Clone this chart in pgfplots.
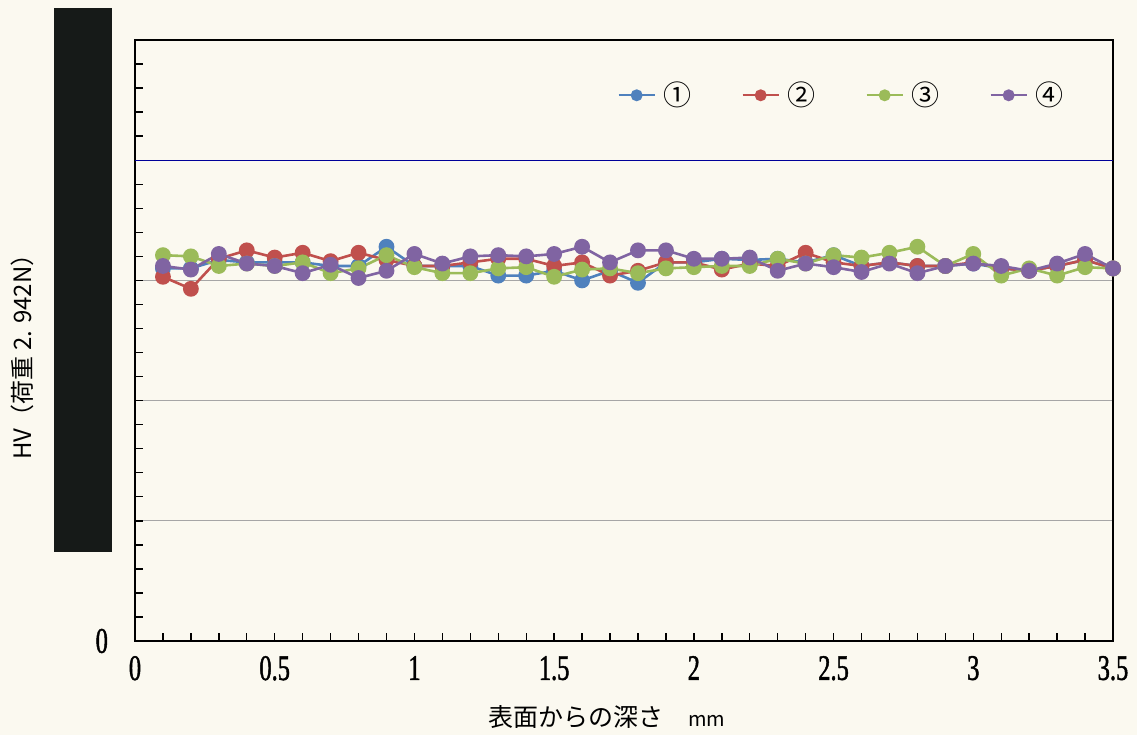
\documentclass[border=0pt]{standalone}
\usepackage{pgfplots}
\usepackage{pgfplotstable}
\pgfplotsset{compat=1.18}
\usepackage{fontspec}
\setmainfont{Liberation Serif}
\newfontfamily\tickfont[FakeStretch=0.68, FakeBold=1.2]{Liberation Serif}
\newfontfamily\cjk{Noto Sans CJK JP}
\definecolor{bgc}{RGB}{251,249,240}
\definecolor{boxc}{RGB}{22,26,24}
\definecolor{c1}{RGB}{79,129,189}
\definecolor{c2}{RGB}{192,80,77}
\definecolor{c3}{RGB}{155,187,89}
\definecolor{c4}{RGB}{128,100,162}
\pgfplotstableread{
x    b    r    g    p
0.1  310  303  321  312
0.2  310  293  320  309
0.3  317  318  312  322
0.4  315  325  314  314
0.5  315  319  312  312
0.6  315  323  315  306
0.7  312  316  306  313
0.8  312  323  310  302
0.9  328  317  321  308
1.0  312  312  311  322
1.1  312  312  306  314
1.2  312  315  306  320
1.3  304  318  310  321
1.4  304  318  311  320
1.5  308  312  303  322
1.6  300  315  309  328
1.7  308  304  310  315
1.8  298  308  306  325
1.9  315  315  310  325
2.0  315  315  311  318
2.1  318  309  312  318
2.2  317  314  312  319
2.3  318  312  318  308
2.4  315  323  314  314
2.5  321  315  321  311
2.6  312  312  319  307
2.7  315  315  323  314
2.8  312  312  328  306
2.9  312  312  312  312
3.0  314  315  322  314
3.1  310  310  304  312
3.2  308  308  310  308
3.3  312  312  304  314
3.4  317  317  311  322
3.5  310  310  310  310
}\hv
\begin{document}
\begin{tikzpicture}
\fill[bgc] (-67.5pt,-47pt) rectangle (501pt,320.5pt);
\useasboundingbox (-67.5pt,-47pt) rectangle (501pt,320.5pt);
\begin{axis}[
  at={(0pt,0pt)}, anchor=south west,
  scale only axis, width=489pt, height=300.5pt,
  xmin=0, xmax=3.5, ymin=0, ymax=500,
  xtick={0,0.5,...,3.5}, minor x tick num=4,
  xticklabels={0,0.5,1,1.5,2,2.5,3,3.5},
  ytick={0,100,200,300,400,500}, minor y tick num=4,
  yticklabels={0,{},{},{},{},{}},
  tick align=inside, xtick pos=bottom, ytick pos=left,
  major tick length=4pt, minor tick length=4pt,
  tick style={black, line width=0.7pt},
  ymajorgrids, major grid style={gray!70, line width=0.6pt},
  axis line style={black, line width=0.9pt},
  /pgf/number format/assume math mode=true,
  xticklabel style={font=\tickfont\fontsize{18}{18}\selectfont, yshift=-4pt},
  yticklabel style={font=\tickfont\fontsize{18}{18}\selectfont, xshift=-10pt},
  legend columns=4,
  legend style={at={(0.487,0.908)}, anchor=west, draw=none, fill=none,
    font=\cjk\fontsize{14}{14}\selectfont,
    /tikz/every odd column/.append style={column sep=2pt},
    /tikz/every even column/.append style={column sep=23pt}},
  legend image code/.code={
    \draw[mark repeat=2,mark phase=2,#1,line width=1pt,mark options={scale=0.75}]
      plot coordinates {(0pt,0pt) (9pt,0pt) (18pt,0pt)};},
  every axis plot/.append style={line width=1.3pt, mark=*, mark size=3.3pt},
  clip=false,
]
\draw[blue!60!black, line width=0.6pt] (axis cs:0,400) -- (axis cs:3.5,400);
\addplot[c1, mark options={fill=c1}] table[x=x,y=b]{\hv};
\addlegendentry{①}
\addplot[c2, mark options={fill=c2}] table[x=x,y=r]{\hv};
\addlegendentry{②}
\addplot[c3, mark options={fill=c3}] table[x=x,y=g]{\hv};
\addlegendentry{③}
\addplot[c4, mark options={fill=c4}] table[x=x,y=p]{\hv};
\addlegendentry{④}
\end{axis}
\fill[boxc] (-40.5pt,44.5pt) rectangle (-11.5pt,316.5pt);
\node[rotate=90, font=\cjk\fontsize{12}{12}\selectfont] at (-56.5pt,145pt) {HV（荷重 2. 942N）};
\node[font=\cjk\fontsize{12.5}{12.5}\selectfont] at (236pt,-38pt) {表面からの深さ\quad{\fontsize{10}{10}\selectfont mm}};
\end{tikzpicture}
\end{document}
